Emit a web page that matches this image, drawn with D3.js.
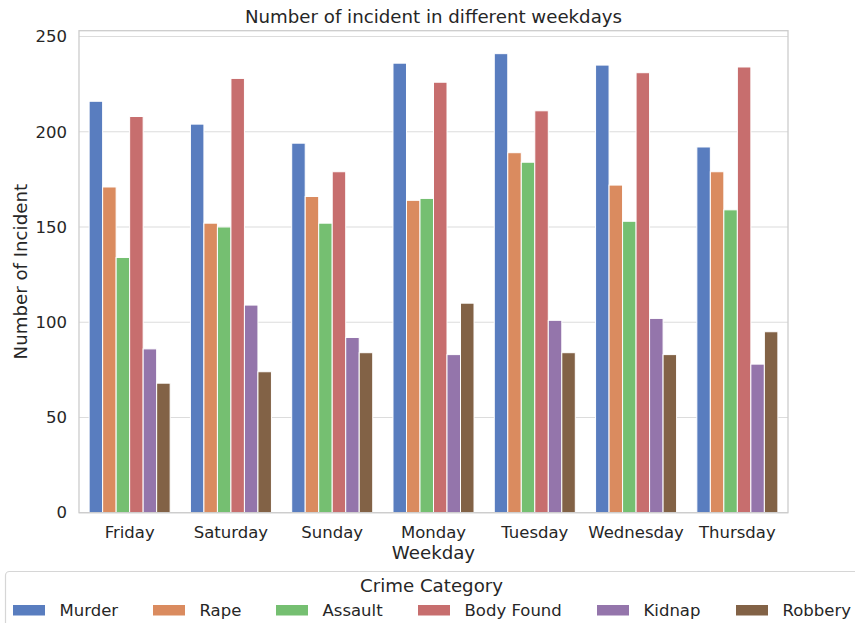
<!DOCTYPE html>
<html>
<head>
<meta charset="utf-8">
<script src="https://cdn.jsdelivr.net/npm/d3@7"></script>
<style>
  body { margin: 0; background: #fff; }
  svg { display: block; font-family: "DejaVu Sans", sans-serif; }
</style>
</head>
<body>
<svg id="chart" width="855" height="623"></svg>
<script>
const weekdays = ["Friday", "Saturday", "Sunday", "Monday", "Tuesday", "Wednesday", "Thursday"];
const crimes = ["Murder", "Rape", "Assault", "Body Found", "Kidnap", "Robbery"];
const murder    = [216, 204, 194, 236, 241, 235, 192];
const rape      = [171, 152, 166, 164, 189, 172, 179];
const assault   = [134, 150, 152, 165, 184, 153, 159];
const bodyFound = [208, 228, 179, 226, 211, 231, 234];
const kidnap    = [86, 109, 92, 83, 101, 102, 78];
const robbery   = [68, 74, 84, 110, 84, 83, 95];
const yTicks = [0, 50, 100, 150, 200, 250];
const seriesValues = [murder, rape, assault, bodyFound, kidnap, robbery];
const basePalette = ["#4878d0", "#ee854a", "#6acc64", "#d65f5f", "#956cb4", "#8c613c"];

// seaborn desaturation (0.75)
const palette = basePalette.map(c => { const h = d3.hsl(c); h.s *= 0.75; return h.formatHex(); });

const svg = d3.select("#chart");
const mLeft = 79, mRight = 788, mTop = 30.7, mBottom = 512.7;

const x = d3.scaleBand().domain(weekdays).range([mLeft, mRight]).paddingInner(0).paddingOuter(0);
const y = d3.scaleLinear().domain([0, 253.05]).range([mBottom, mTop]);
const groupW = x.bandwidth() * 0.8;
const xs = d3.scaleBand().domain(crimes).range([0, groupW]);

// gridlines
svg.append("g").selectAll("line").data(yTicks).join("line")
  .attr("x1", mLeft).attr("x2", mRight)
  .attr("y1", d => y(d)).attr("y2", d => y(d))
  .attr("stroke", "#dcdcdc").attr("stroke-width", 1.1);

// bars
const data = [];
weekdays.forEach((w, i) => crimes.forEach((c, j) => data.push({ w, c, j, v: seriesValues[j][i] })));
svg.append("g").selectAll("rect").data(data).join("rect")
  .attr("x", d => x(d.w) + (x.bandwidth() - groupW) / 2 + xs(d.c))
  .attr("width", xs.bandwidth())
  .attr("y", d => y(d.v))
  .attr("height", d => y(0) - y(d.v))
  .attr("fill", d => palette[d.j])
  .attr("stroke", "#ffffff").attr("stroke-width", 1);

// spines
svg.append("rect").attr("x", mLeft).attr("y", mTop).attr("width", mRight - mLeft).attr("height", mBottom - mTop)
  .attr("fill", "none").attr("stroke", "#cccccc").attr("stroke-width", 1.3);

// axes
const yAxis = svg.append("g").attr("transform", `translate(${mLeft},0)`)
  .call(d3.axisLeft(y).tickValues(yTicks).tickSize(0).tickPadding(12));
yAxis.select(".domain").remove();
yAxis.selectAll("text").attr("font-size", 16.5).attr("fill", "#262626").attr("font-family", "DejaVu Sans");

const xAxis = svg.append("g").attr("transform", `translate(0,${mBottom})`)
  .call(d3.axisBottom(x).tickSize(0).tickPadding(13.5));
xAxis.select(".domain").remove();
xAxis.selectAll("text").attr("font-size", 16.5).attr("fill", "#262626").attr("font-family", "DejaVu Sans");

// title & labels
svg.append("text").attr("x", (mLeft + mRight) / 2).attr("y", 23).attr("text-anchor", "middle")
  .attr("font-size", 18.2).attr("fill", "#262626").text("Number of incident in different weekdays");
svg.append("text").attr("x", (mLeft + mRight) / 2).attr("y", 559).attr("text-anchor", "middle")
  .attr("font-size", 18.2).attr("fill", "#262626").text("Weekday");
svg.append("text").attr("transform", `translate(27,${(mTop + mBottom) / 2}) rotate(-90)`).attr("text-anchor", "middle")
  .attr("font-size", 18.2).attr("fill", "#262626").text("Number of Incident");

// legend
const lg = svg.append("g");
lg.append("rect").attr("x", 5.5).attr("y", 571.5).attr("width", 870).attr("height", 70).attr("rx", 4)
  .attr("fill", "#ffffff").attr("stroke", "#d6d6d6").attr("stroke-width", 1.2);
lg.append("text").attr("x", 431.5).attr("y", 592).attr("text-anchor", "middle")
  .attr("font-size", 18.2).attr("fill", "#262626").text("Crime Category");
const legX = [13, 153, 276, 418, 597, 736];
crimes.forEach((c, j) => {
  lg.append("rect").attr("x", legX[j]).attr("y", 605).attr("width", 32).attr("height", 10.5).attr("fill", palette[j]);
  lg.append("text").attr("x", legX[j] + 46.5).attr("y", 616).attr("font-size", 16.5).attr("fill", "#262626").text(c);
});
</script>
</body>
</html>
